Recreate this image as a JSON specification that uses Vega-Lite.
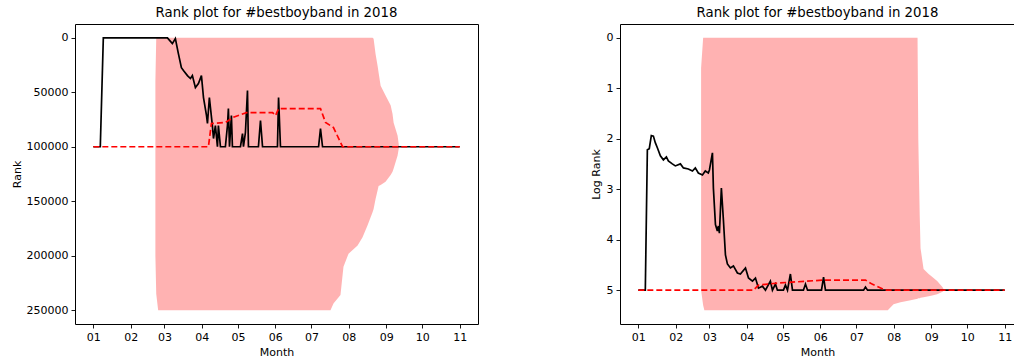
{
  "$schema": "https://vega.github.io/schema/vega-lite/v6.json",
  "background": "white",
  "padding": {"left": 10, "top": 5, "right": 0, "bottom": 0},
  "bounds": "flush",
  "spacing": 142,
  "config": {
    "font": "DejaVu Sans",
    "view": {"stroke": "black", "strokeWidth": 1},
    "axis": {
      "grid": false, "domain": false, "tickColor": "black", "tickSize": 4, "tickWidth": 0.9,
      "labelFontSize": 11, "labelColor": "black", "labelPadding": 3, "labelFont": "DejaVu Sans",
      "titleFontSize": 11, "titleFontWeight": "normal", "titleColor": "black", "titleFont": "DejaVu Sans",
      "labelFlush": false, "labelOverlap": false
    },
    "title": {"fontSize": 13.3, "fontWeight": "normal", "font": "DejaVu Sans", "color": "black", "offset": 5}
  },
  "datasets": {
    "rankL": [
      {"date": "2018-01-01T00:00", "value": 100000},
      {"date": "2018-01-06T19:00", "value": 100000},
      {"date": "2018-01-09T07:00", "value": 200},
      {"date": "2018-03-03T12:00", "value": 300},
      {"date": "2018-03-07T14:00", "value": 5500},
      {"date": "2018-03-10T02:00", "value": 900},
      {"date": "2018-03-12T14:00", "value": 14600},
      {"date": "2018-03-15T02:00", "value": 27500},
      {"date": "2018-03-16T19:00", "value": 30200},
      {"date": "2018-03-20T02:00", "value": 34800},
      {"date": "2018-03-22T14:00", "value": 37500},
      {"date": "2018-03-24T05:00", "value": 34800},
      {"date": "2018-03-26T17:00", "value": 45800},
      {"date": "2018-03-29T05:00", "value": 42100},
      {"date": "2018-03-31T17:00", "value": 34800},
      {"date": "2018-04-02T10:00", "value": 54900},
      {"date": "2018-04-04T22:00", "value": 71400},
      {"date": "2018-04-05T17:00", "value": 78700},
      {"date": "2018-04-07T07:00", "value": 54900},
      {"date": "2018-04-09T19:00", "value": 80600},
      {"date": "2018-04-10T17:00", "value": 92500},
      {"date": "2018-04-12T07:00", "value": 80600},
      {"date": "2018-04-14T00:00", "value": 100000},
      {"date": "2018-04-14T19:00", "value": 80600},
      {"date": "2018-04-16T12:00", "value": 100000},
      {"date": "2018-04-20T14:00", "value": 100000},
      {"date": "2018-04-22T07:00", "value": 80600},
      {"date": "2018-04-23T02:00", "value": 65000},
      {"date": "2018-04-24T00:00", "value": 100000},
      {"date": "2018-04-25T14:00", "value": 71400},
      {"date": "2018-04-26T10:00", "value": 100000},
      {"date": "2018-05-03T02:00", "value": 100000},
      {"date": "2018-05-04T19:00", "value": 87900},
      {"date": "2018-05-05T14:00", "value": 100000},
      {"date": "2018-05-07T05:00", "value": 87000},
      {"date": "2018-05-08T22:00", "value": 48500},
      {"date": "2018-05-09T17:00", "value": 100000},
      {"date": "2018-05-18T00:00", "value": 100000},
      {"date": "2018-05-19T17:00", "value": 76000},
      {"date": "2018-05-21T10:00", "value": 100000},
      {"date": "2018-06-02T19:00", "value": 100000},
      {"date": "2018-06-03T17:00", "value": 54900},
      {"date": "2018-06-05T07:00", "value": 100000},
      {"date": "2018-07-06T22:00", "value": 100000},
      {"date": "2018-07-08T12:00", "value": 83300},
      {"date": "2018-07-10T05:00", "value": 100000},
      {"date": "2018-11-01T00:00", "value": 100000}
    ],
    "meanL": [
      {"date": "2018-01-01T00:00", "value": 100000},
      {"date": "2018-04-06T12:00", "value": 100000},
      {"date": "2018-04-09T00:00", "value": 78700},
      {"date": "2018-04-20T14:00", "value": 77800},
      {"date": "2018-04-27T07:00", "value": 73000},
      {"date": "2018-05-08T02:00", "value": 68700},
      {"date": "2018-05-29T17:00", "value": 68700},
      {"date": "2018-06-01T05:00", "value": 71400},
      {"date": "2018-06-03T17:00", "value": 65000},
      {"date": "2018-07-08T12:00", "value": 65000},
      {"date": "2018-07-12T17:00", "value": 77800},
      {"date": "2018-07-19T07:00", "value": 82400},
      {"date": "2018-07-26T19:00", "value": 100000},
      {"date": "2018-11-01T00:00", "value": 100000}
    ],
    "bandL": [
      {"date": "2018-02-21T12:00", "lo": 40000, "hi": 200000},
      {"date": "2018-02-22T05:00", "lo": 0, "hi": 235000},
      {"date": "2018-02-23T19:00", "lo": 0, "hi": 250000},
      {"date": "2018-07-16T19:00", "lo": 0, "hi": 250000},
      {"date": "2018-07-19T07:00", "lo": 0, "hi": 243600},
      {"date": "2018-07-25T02:00", "lo": 0, "hi": 236000},
      {"date": "2018-07-27T14:00", "lo": 0, "hi": 210000},
      {"date": "2018-07-31T19:00", "lo": 0, "hi": 198000},
      {"date": "2018-08-08T07:00", "lo": 0, "hi": 190500},
      {"date": "2018-08-12T10:00", "lo": 0, "hi": 183000},
      {"date": "2018-08-16T14:00", "lo": 0, "hi": 172000},
      {"date": "2018-08-20T17:00", "lo": 0, "hi": 160000},
      {"date": "2018-08-21T14:00", "lo": 1000, "hi": 157000},
      {"date": "2018-08-23T05:00", "lo": 15000, "hi": 148000},
      {"date": "2018-08-24T22:00", "lo": 26000, "hi": 140000},
      {"date": "2018-08-25T17:00", "lo": 32000, "hi": 136000},
      {"date": "2018-08-27T10:00", "lo": 44000, "hi": 135000},
      {"date": "2018-08-31T12:00", "lo": 53000, "hi": 132000},
      {"date": "2018-09-04T17:00", "lo": 62000, "hi": 126000},
      {"date": "2018-09-06T07:00", "lo": 70000, "hi": 123000},
      {"date": "2018-09-07T05:00", "lo": 78000, "hi": 120000},
      {"date": "2018-09-10T12:00", "lo": 90000, "hi": 108000},
      {"date": "2018-09-11T17:00", "lo": 100000, "hi": 100000}
    ],
    "rankR": [
      {"date": "2018-01-01T00:00", "value": 5.0},
      {"date": "2018-01-06T19:00", "value": 5.0},
      {"date": "2018-01-08T12:00", "value": 2.22},
      {"date": "2018-01-10T02:00", "value": 2.2},
      {"date": "2018-01-11T19:00", "value": 1.94},
      {"date": "2018-01-13T12:00", "value": 1.95},
      {"date": "2018-01-15T02:00", "value": 2.08},
      {"date": "2018-01-16T19:00", "value": 2.18},
      {"date": "2018-01-19T07:00", "value": 2.34},
      {"date": "2018-01-21T19:00", "value": 2.42},
      {"date": "2018-01-24T07:00", "value": 2.36},
      {"date": "2018-01-25T22:00", "value": 2.44},
      {"date": "2018-01-29T05:00", "value": 2.5},
      {"date": "2018-01-31T17:00", "value": 2.54},
      {"date": "2018-02-04T22:00", "value": 2.5},
      {"date": "2018-02-07T10:00", "value": 2.58},
      {"date": "2018-02-11T12:00", "value": 2.6},
      {"date": "2018-02-14T22:00", "value": 2.64},
      {"date": "2018-02-17T07:00", "value": 2.58},
      {"date": "2018-02-19T19:00", "value": 2.68},
      {"date": "2018-02-23T05:00", "value": 2.72},
      {"date": "2018-02-25T14:00", "value": 2.64},
      {"date": "2018-02-28T02:00", "value": 2.68},
      {"date": "2018-03-01T00:00", "value": 2.62},
      {"date": "2018-03-03T12:00", "value": 2.28},
      {"date": "2018-03-04T07:00", "value": 2.98},
      {"date": "2018-03-06T00:00", "value": 3.7},
      {"date": "2018-03-07T14:00", "value": 3.83},
      {"date": "2018-03-08T10:00", "value": 3.73},
      {"date": "2018-03-09T07:00", "value": 3.87},
      {"date": "2018-03-10T22:00", "value": 2.98},
      {"date": "2018-03-12T14:00", "value": 3.6},
      {"date": "2018-03-14T07:00", "value": 4.3},
      {"date": "2018-03-15T22:00", "value": 4.48},
      {"date": "2018-03-18T10:00", "value": 4.56},
      {"date": "2018-03-20T22:00", "value": 4.52},
      {"date": "2018-03-24T05:00", "value": 4.66},
      {"date": "2018-03-26T17:00", "value": 4.68},
      {"date": "2018-03-30T22:00", "value": 4.56},
      {"date": "2018-04-02T10:00", "value": 4.76},
      {"date": "2018-04-05T17:00", "value": 4.82},
      {"date": "2018-04-08T05:00", "value": 4.76},
      {"date": "2018-04-10T17:00", "value": 4.96},
      {"date": "2018-04-14T00:00", "value": 4.92},
      {"date": "2018-04-16T12:00", "value": 5.0},
      {"date": "2018-04-20T14:00", "value": 4.82},
      {"date": "2018-04-22T07:00", "value": 5.0},
      {"date": "2018-04-24T19:00", "value": 4.88},
      {"date": "2018-04-26T10:00", "value": 5.0},
      {"date": "2018-05-01T10:00", "value": 5.0},
      {"date": "2018-05-03T02:00", "value": 4.9},
      {"date": "2018-05-04T19:00", "value": 5.0},
      {"date": "2018-05-07T05:00", "value": 4.68},
      {"date": "2018-05-08T22:00", "value": 5.0},
      {"date": "2018-05-18T00:00", "value": 5.0},
      {"date": "2018-05-19T17:00", "value": 4.88},
      {"date": "2018-05-21T10:00", "value": 5.0},
      {"date": "2018-06-02T00:00", "value": 5.0},
      {"date": "2018-06-03T17:00", "value": 4.74},
      {"date": "2018-06-05T07:00", "value": 5.0},
      {"date": "2018-07-06T22:00", "value": 5.0},
      {"date": "2018-07-08T12:00", "value": 4.94},
      {"date": "2018-07-10T05:00", "value": 5.0},
      {"date": "2018-11-01T00:00", "value": 5.0}
    ],
    "meanR": [
      {"date": "2018-01-01T00:00", "value": 5.0},
      {"date": "2018-04-06T12:00", "value": 5.0},
      {"date": "2018-04-10T17:00", "value": 4.9},
      {"date": "2018-04-26T10:00", "value": 4.86},
      {"date": "2018-06-03T17:00", "value": 4.8},
      {"date": "2018-07-08T12:00", "value": 4.8},
      {"date": "2018-07-14T00:00", "value": 4.88},
      {"date": "2018-07-25T00:00", "value": 5.0},
      {"date": "2018-11-01T00:00", "value": 5.0}
    ],
    "bandR": [
      {"date": "2018-02-22T02:00", "lo": 0.6, "hi": 5.0},
      {"date": "2018-02-23T19:00", "lo": 0, "hi": 5.3},
      {"date": "2018-02-24T19:00", "lo": 0, "hi": 5.4},
      {"date": "2018-07-27T00:00", "lo": 0, "hi": 5.4},
      {"date": "2018-07-31T19:00", "lo": 0, "hi": 5.28},
      {"date": "2018-08-06T14:00", "lo": 0, "hi": 5.24},
      {"date": "2018-08-15T00:00", "lo": 0, "hi": 5.2},
      {"date": "2018-08-20T17:00", "lo": 0, "hi": 5.17},
      {"date": "2018-08-21T08:00", "lo": 2.0, "hi": 5.16},
      {"date": "2018-08-22T12:00", "lo": 3.5, "hi": 5.16},
      {"date": "2018-08-23T05:00", "lo": 4.17, "hi": 5.15},
      {"date": "2018-08-25T17:00", "lo": 4.58, "hi": 5.14},
      {"date": "2018-08-29T22:00", "lo": 4.68, "hi": 5.12},
      {"date": "2018-09-01T00:00", "lo": 4.72, "hi": 5.11},
      {"date": "2018-09-06T00:00", "lo": 4.82, "hi": 5.08},
      {"date": "2018-09-10T12:00", "lo": 4.94, "hi": 5.03},
      {"date": "2018-09-11T17:00", "lo": 5.0, "hi": 5.0}
    ]
  },
  "hconcat": [
    {
      "width": 403,
      "height": 300,
      "title": "Rank plot for #bestboyband in 2018",
      "layer": [
        {
          "data": {"name": "bandL"},
          "mark": {"type": "area", "color": "red", "opacity": 0.3},
          "encoding": {
            "x": {"field": "date", "type": "temporal",
              "scale": {"domain": ["2017-12-16T19:00", "2018-11-16T05:00"], "nice": false},
              "axis": {"title": "Month", "format": "%m", "tickCount": {"interval": "month", "step": 1}, "titlePadding": 4}},
            "y": {"field": "hi", "type": "quantitative",
              "scale": {"domain": [-12500, 262500], "reverse": true, "nice": false, "zero": false},
              "axis": {"title": "Rank", "values": [0, 50000, 100000, 150000, 200000, 250000], "format": "d", "titlePadding": 4}},
            "y2": {"field": "lo"}
          }
        },
        {
          "data": {"name": "rankL"},
          "mark": {"type": "line", "color": "black", "strokeWidth": 1.7},
          "encoding": {
            "x": {"field": "date", "type": "temporal"},
            "y": {"field": "value", "type": "quantitative", "title": "Rank"}
          }
        },
        {
          "data": {"name": "meanL"},
          "mark": {"type": "line", "color": "red", "strokeWidth": 1.7, "strokeDash": [6, 3]},
          "encoding": {
            "x": {"field": "date", "type": "temporal"},
            "y": {"field": "value", "type": "quantitative", "title": "Rank"}
          }
        }
      ]
    },
    {
      "width": 395,
      "height": 300,
      "title": "Rank plot for #bestboyband in 2018",
      "view": {"stroke": null},
      "resolve": {"axis": {"x": "independent"}},
      "layer": [
        {
          "data": {"name": "bandR"},
          "mark": {"type": "area", "color": "red", "opacity": 0.3},
          "encoding": {
            "x": {"field": "date", "type": "temporal",
              "scale": {"domain": ["2017-12-16T19:00", "2018-11-09T14:00"], "nice": false},
              "axis": {"title": "Month", "format": "%m", "tickCount": {"interval": "month", "step": 1}, "titlePadding": 4, "domain": true, "domainColor": "black", "domainWidth": 1}},
            "y": {"field": "hi", "type": "quantitative",
              "scale": {"domain": [-0.27, 5.67], "reverse": true, "nice": false, "zero": false},
              "axis": {"title": "Log Rank", "values": [0, 1, 2, 3, 4, 5], "format": "d", "titlePadding": 5, "domain": true, "domainColor": "black", "domainWidth": 1}},
            "y2": {"field": "lo"}
          }
        },
        {
          "data": {"name": "rankR"},
          "mark": {"type": "line", "color": "black", "strokeWidth": 1.7},
          "encoding": {
            "x": {"field": "date", "type": "temporal",
              "axis": {"orient": "top", "labels": false, "ticks": false, "title": null, "domain": true, "domainColor": "black", "domainWidth": 1}},
            "y": {"field": "value", "type": "quantitative", "title": "Log Rank"}
          }
        },
        {
          "data": {"name": "meanR"},
          "mark": {"type": "line", "color": "red", "strokeWidth": 1.7, "strokeDash": [6, 3]},
          "encoding": {
            "x": {"field": "date", "type": "temporal", "axis": null},
            "y": {"field": "value", "type": "quantitative", "title": "Log Rank"}
          }
        }
      ]
    }
  ]
}
